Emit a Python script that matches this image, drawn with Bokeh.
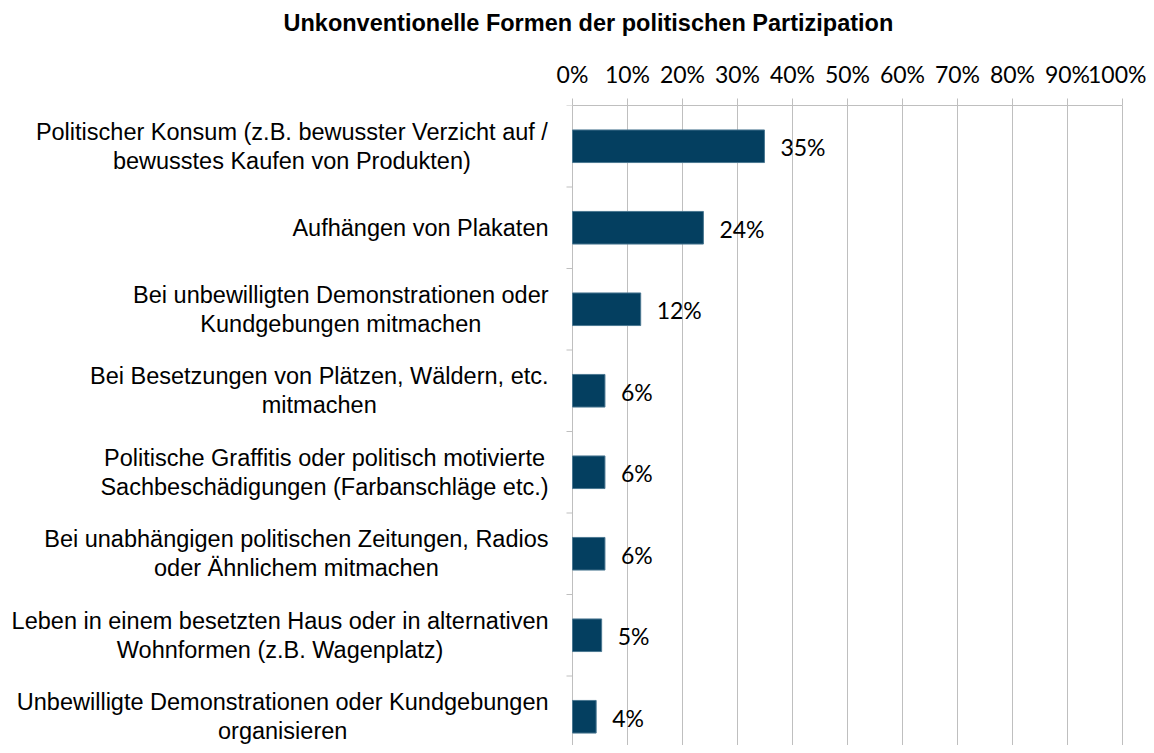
import numpy as np
from bokeh.plotting import figure
from bokeh.layouts import column
from bokeh.models import ColumnDataSource, LabelSet, Range1d, FixedTicker, LinearAxis
from bokeh.core.properties import value
from bokeh.embed import file_html
from bokeh.resources import INLINE

title = "Unkonventionelle Formen der politischen Partizipation"
categories = [
    "Politischer Konsum (z.B. bewusster Verzicht auf /\nbewusstes Kaufen von Produkten)",
    "Aufhängen von Plakaten",
    "Bei unbewilligten Demonstrationen oder\nKundgebungen mitmachen",
    "Bei Besetzungen von Plätzen, Wäldern, etc.\nmitmachen",
    "Politische Graffitis oder politisch motivierte\nSachbeschädigungen (Farbanschläge etc.)",
    "Bei unabhängigen politischen Zeitungen, Radios\noder Ähnlichem mitmachen",
    "Leben in einem besetzten Haus oder in alternativen\nWohnformen (z.B. Wagenplatz)",
    "Unbewilligte Demonstrationen oder Kundgebungen\norganisieren",
]
values = [34.9, 23.8, 12.4, 5.9, 5.9, 5.9, 5.3, 4.3]
value_labels = ["35%", "24%", "12%", "6%", "6%", "6%", "5%", "4%"]
x_ticks = [0, 10, 20, 30, 40, 50, 60, 70, 80, 90, 100]
x_tick_labels = ["0%", "10%", "20%", "30%", "40%", "50%", "60%", "70%", "80%", "90%", "100%"]

BAR = "#043f60"
GRID = "#bfbfbf"
CAT_FS = 23.5

# Arial / Liberation Sans advance widths (1/1000 em) to centre each label block's lines
_AW = dict(zip("abcdefghijklmnopqrstuvwxyz",
               [556, 556, 500, 556, 556, 278, 556, 556, 222, 222, 500, 222, 833,
                556, 556, 556, 556, 333, 500, 278, 556, 500, 722, 500, 500, 500]))
_AW.update(zip("ABCDEFGHIJKLMNOPQRSTUVWXYZ",
               [667, 667, 722, 722, 667, 611, 778, 722, 278, 500, 667, 556, 833,
                722, 778, 667, 778, 722, 667, 611, 722, 667, 944, 667, 667, 611]))
_AW.update({" ": 278, "(": 333, ")": 333, ".": 278, ",": 278, "/": 278,
            "ä": 556, "ö": 556, "ü": 556, "Ä": 667})


def block_width(s, fs):
    return max(sum(_AW.get(c, 556) for c in line) for line in s.split("\n")) * fs / 1000.0


n = len(categories)
pos = np.arange(n) + 0.5
cat_off = [-(24 + block_width(c, CAT_FS) / 2.0) for c in categories]
src = ColumnDataSource(dict(y=pos, v=values, lab=value_labels, cat=categories,
                            zero=[0] * n, off=cat_off))
seps = list(range(n + 1))

W = 1146
TH = 44          # title strip height
H = 745 - TH     # chart height

# ---- title strip ----
tfig = figure(width=W, height=TH, output_backend="svg", toolbar_location=None,
              x_range=Range1d(0, W), y_range=Range1d(TH, 0),
              x_axis_location=None, y_axis_location=None, min_border=0)
tfig.outline_line_color = None
tfig.xgrid.visible = False
tfig.ygrid.visible = False
tfig.text(x=[283], y=[22], text=[title], text_font=value("Liberation Sans"),
          text_font_style="bold", text_font_size=value("23.5px"), text_color="black",
          text_align="left", text_baseline="middle")

# ---- chart ----
LEFT_PX, RIGHT_PX = 572, 1122
ppu = (RIGHT_PX - LEFT_PX) / 100.0
TOP = 105 - TH
p = figure(width=W, height=H, output_backend="svg", toolbar_location=None,
           x_range=Range1d(-LEFT_PX / ppu, (W - LEFT_PX) / ppu),
           y_range=Range1d((H - TOP) / 81.5, 0),
           x_axis_location=None, y_axis_location=None,
           min_border_left=0, min_border_right=0, min_border_top=TOP, min_border_bottom=0)
p.outline_line_color = None
p.background_fill_color = "white"

xa = LinearAxis(ticker=FixedTicker(ticks=x_ticks), bounds=(0, 100),
                major_label_overrides={t: l for t, l in zip(x_ticks, x_tick_labels)})
xa.axis_line_color = GRID
xa.major_tick_line_color = GRID
xa.major_tick_out = 7
xa.major_tick_in = 0
xa.minor_tick_line_color = None
xa.major_label_text_font = "Lato"
xa.major_label_text_font_size = "23px"
xa.major_label_text_color = "black"
xa.major_label_standoff = 11
p.add_layout(xa, "above")

p.xgrid.ticker = FixedTicker(ticks=x_ticks)
p.xgrid.grid_line_color = GRID
p.ygrid.grid_line_color = None

# category separator ticks on the vertical axis at 0%
p.segment(x0=0, x1=-6 / ppu, y0=seps, y1=seps, line_color=GRID, line_width=1)

p.hbar(y="y", left=0, right="v", height=0.4, source=src,
       fill_color=BAR, line_color="#4a7791", line_width=1)

p.text(x="zero", y="y", text="cat", x_offset="off", source=src,
       text_font=value("Liberation Sans"), text_font_size=value(f"{CAT_FS}px"),
       text_color="black", text_align="center", text_baseline="middle",
       text_line_height=1.1)

vals = LabelSet(x="v", y="y", text="lab", source=src, x_offset=16, y_offset=-1,
                text_font=value("Lato"), text_font_size=value("23px"), text_color="black",
                text_baseline="middle", text_align="left")
p.add_layout(vals)

layout = column(tfig, p, spacing=0)
open("out.html", "w").write(file_html(layout, INLINE))
